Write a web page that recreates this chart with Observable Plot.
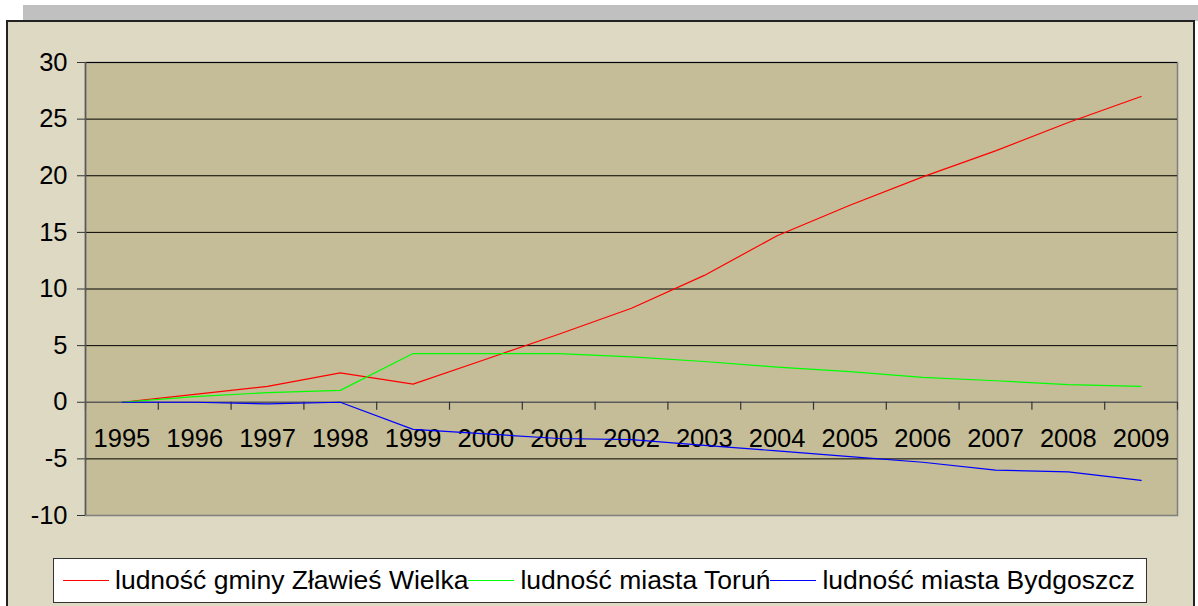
<!DOCTYPE html>
<html>
<head>
<meta charset="utf-8">
<script src="https://cdn.jsdelivr.net/npm/d3@7"></script>
<script src="https://cdn.jsdelivr.net/npm/@observablehq/plot@0.6"></script>
<style>
  html, body { margin: 0; padding: 0; background: #fff; }
  #wrap { position: relative; width: 1198px; height: 606px; overflow: hidden; font-family: "Liberation Sans", Arial, sans-serif; }
  #shadow { position: absolute; left: 23px; top: 5px; width: 1175px; height: 16px; background: #c0c0c0; }
  #frame { position: absolute; left: 6px; top: 20px; width: 1189px; height: 600px; background: #ddd9c3; border: 2px solid #222; box-sizing: border-box; }
  #chart { position: absolute; left: 0; top: 0; }
  #legend { position: absolute; left: 53px; top: 558px; width: 1094px; height: 45px; box-sizing: border-box; background: #fff; border: 1.5px solid #333; display: flex; align-items: center; font-size: 26.5px; color: #000; white-space: nowrap; padding-left: 9px; }
  .item { display: flex; align-items: center; }
  .swatch { display: inline-block; width: 46px; height: 0; border-top: 1.5px solid; margin: 0 6px 0 0; }
</style>
</head>
<body>
<div id="wrap">
  <div id="shadow"></div>
  <div id="frame"></div>
  <div id="chart"></div>
  <div id="legend"></div>
</div>
<script>
const years = [1995, 1996, 1997, 1998, 1999, 2000, 2001, 2002, 2003, 2004, 2005, 2006, 2007, 2008, 2009];
const zlawies = [0, 0.7, 1.4, 2.6, 1.6, 3.8, 6.0, 8.3, 11.2, 14.7, 17.4, 19.9, 22.2, 24.7, 27.0];
const torun = [0, 0.5, 0.85, 1.05, 4.3, 4.3, 4.3, 4.0, 3.6, 3.1, 2.7, 2.2, 1.9, 1.55, 1.4];
const bydgoszcz = [0, 0, -0.15, 0, -2.4, -2.8, -3.2, -3.3, -3.8, -4.3, -4.8, -5.3, -6.0, -6.15, -6.9];
const yTicks = [-10, -5, 0, 5, 10, 15, 20, 25, 30];
const seriesNames = ["ludność gminy Zławieś Wielka", "ludność miasta Toruń", "ludność miasta Bydgoszcz"];
const seriesColors = ["#ff0000", "#00ff00", "#0000ff"];
const seriesValues = [zlawies, torun, bydgoszcz];

const data = [];
seriesValues.forEach((vals, s) => vals.forEach((v, i) => data.push({year: years[i], value: v, series: seriesNames[s]})));
const boundaries = years.map(y => y - 0.5).concat([years[years.length - 1] + 0.5]);

const chart = Plot.plot({
  width: 1198,
  height: 548,
  marginLeft: 85,
  marginRight: 21,
  marginTop: 62,
  marginBottom: 33,
  style: { background: "transparent", fontFamily: "Liberation Sans, Arial, sans-serif", overflow: "visible" },
  x: { type: "linear", domain: [boundaries[0], boundaries[boundaries.length - 1]], axis: null },
  y: { domain: [-10, 30], axis: null },
  color: { domain: seriesNames, range: seriesColors },
  marks: [
    Plot.frame({ fill: "#c4bd97", stroke: "#7f7f7f", strokeWidth: 1.5 }),
    Plot.ruleY(yTicks.filter(t => t !== 0 && t !== -10), { stroke: "#000", strokeWidth: 1 }),
    Plot.ruleY([0], { stroke: "#5a5a5a", strokeWidth: 1.5 }),
    Plot.ruleX(boundaries, { x: d => d, y1: 0, y2: 0, insetBottom: -8, stroke: "#333", strokeWidth: 1.2 }),
    Plot.axisY({ ticks: yTicks, label: null, tickSize: 8, tickPadding: 10, fontSize: 25.5, stroke: "#333", tickFormat: d => String(d) }),
    Plot.ruleX([boundaries[0]], { stroke: "#5a5a5a", strokeWidth: 1.5 }),
    Plot.text(years, { x: d => d, y: 0, dy: 37, text: d => String(d), fontSize: 25.5, fill: "#000" }),
    Plot.line(data, { x: "year", y: "value", z: "series", stroke: "series", strokeWidth: 1.2 })
  ]
});
document.getElementById("chart").appendChild(chart);

const legend = document.getElementById("legend");
seriesNames.forEach((name, i) => {
  const item = document.createElement("span");
  item.className = "item";
  const sw = document.createElement("span");
  sw.className = "swatch";
  sw.style.borderTopColor = seriesColors[i];
  const label = document.createElement("span");
  label.textContent = name;
  item.appendChild(sw);
  item.appendChild(label);
  legend.appendChild(item);
});
</script>
</body>
</html>
